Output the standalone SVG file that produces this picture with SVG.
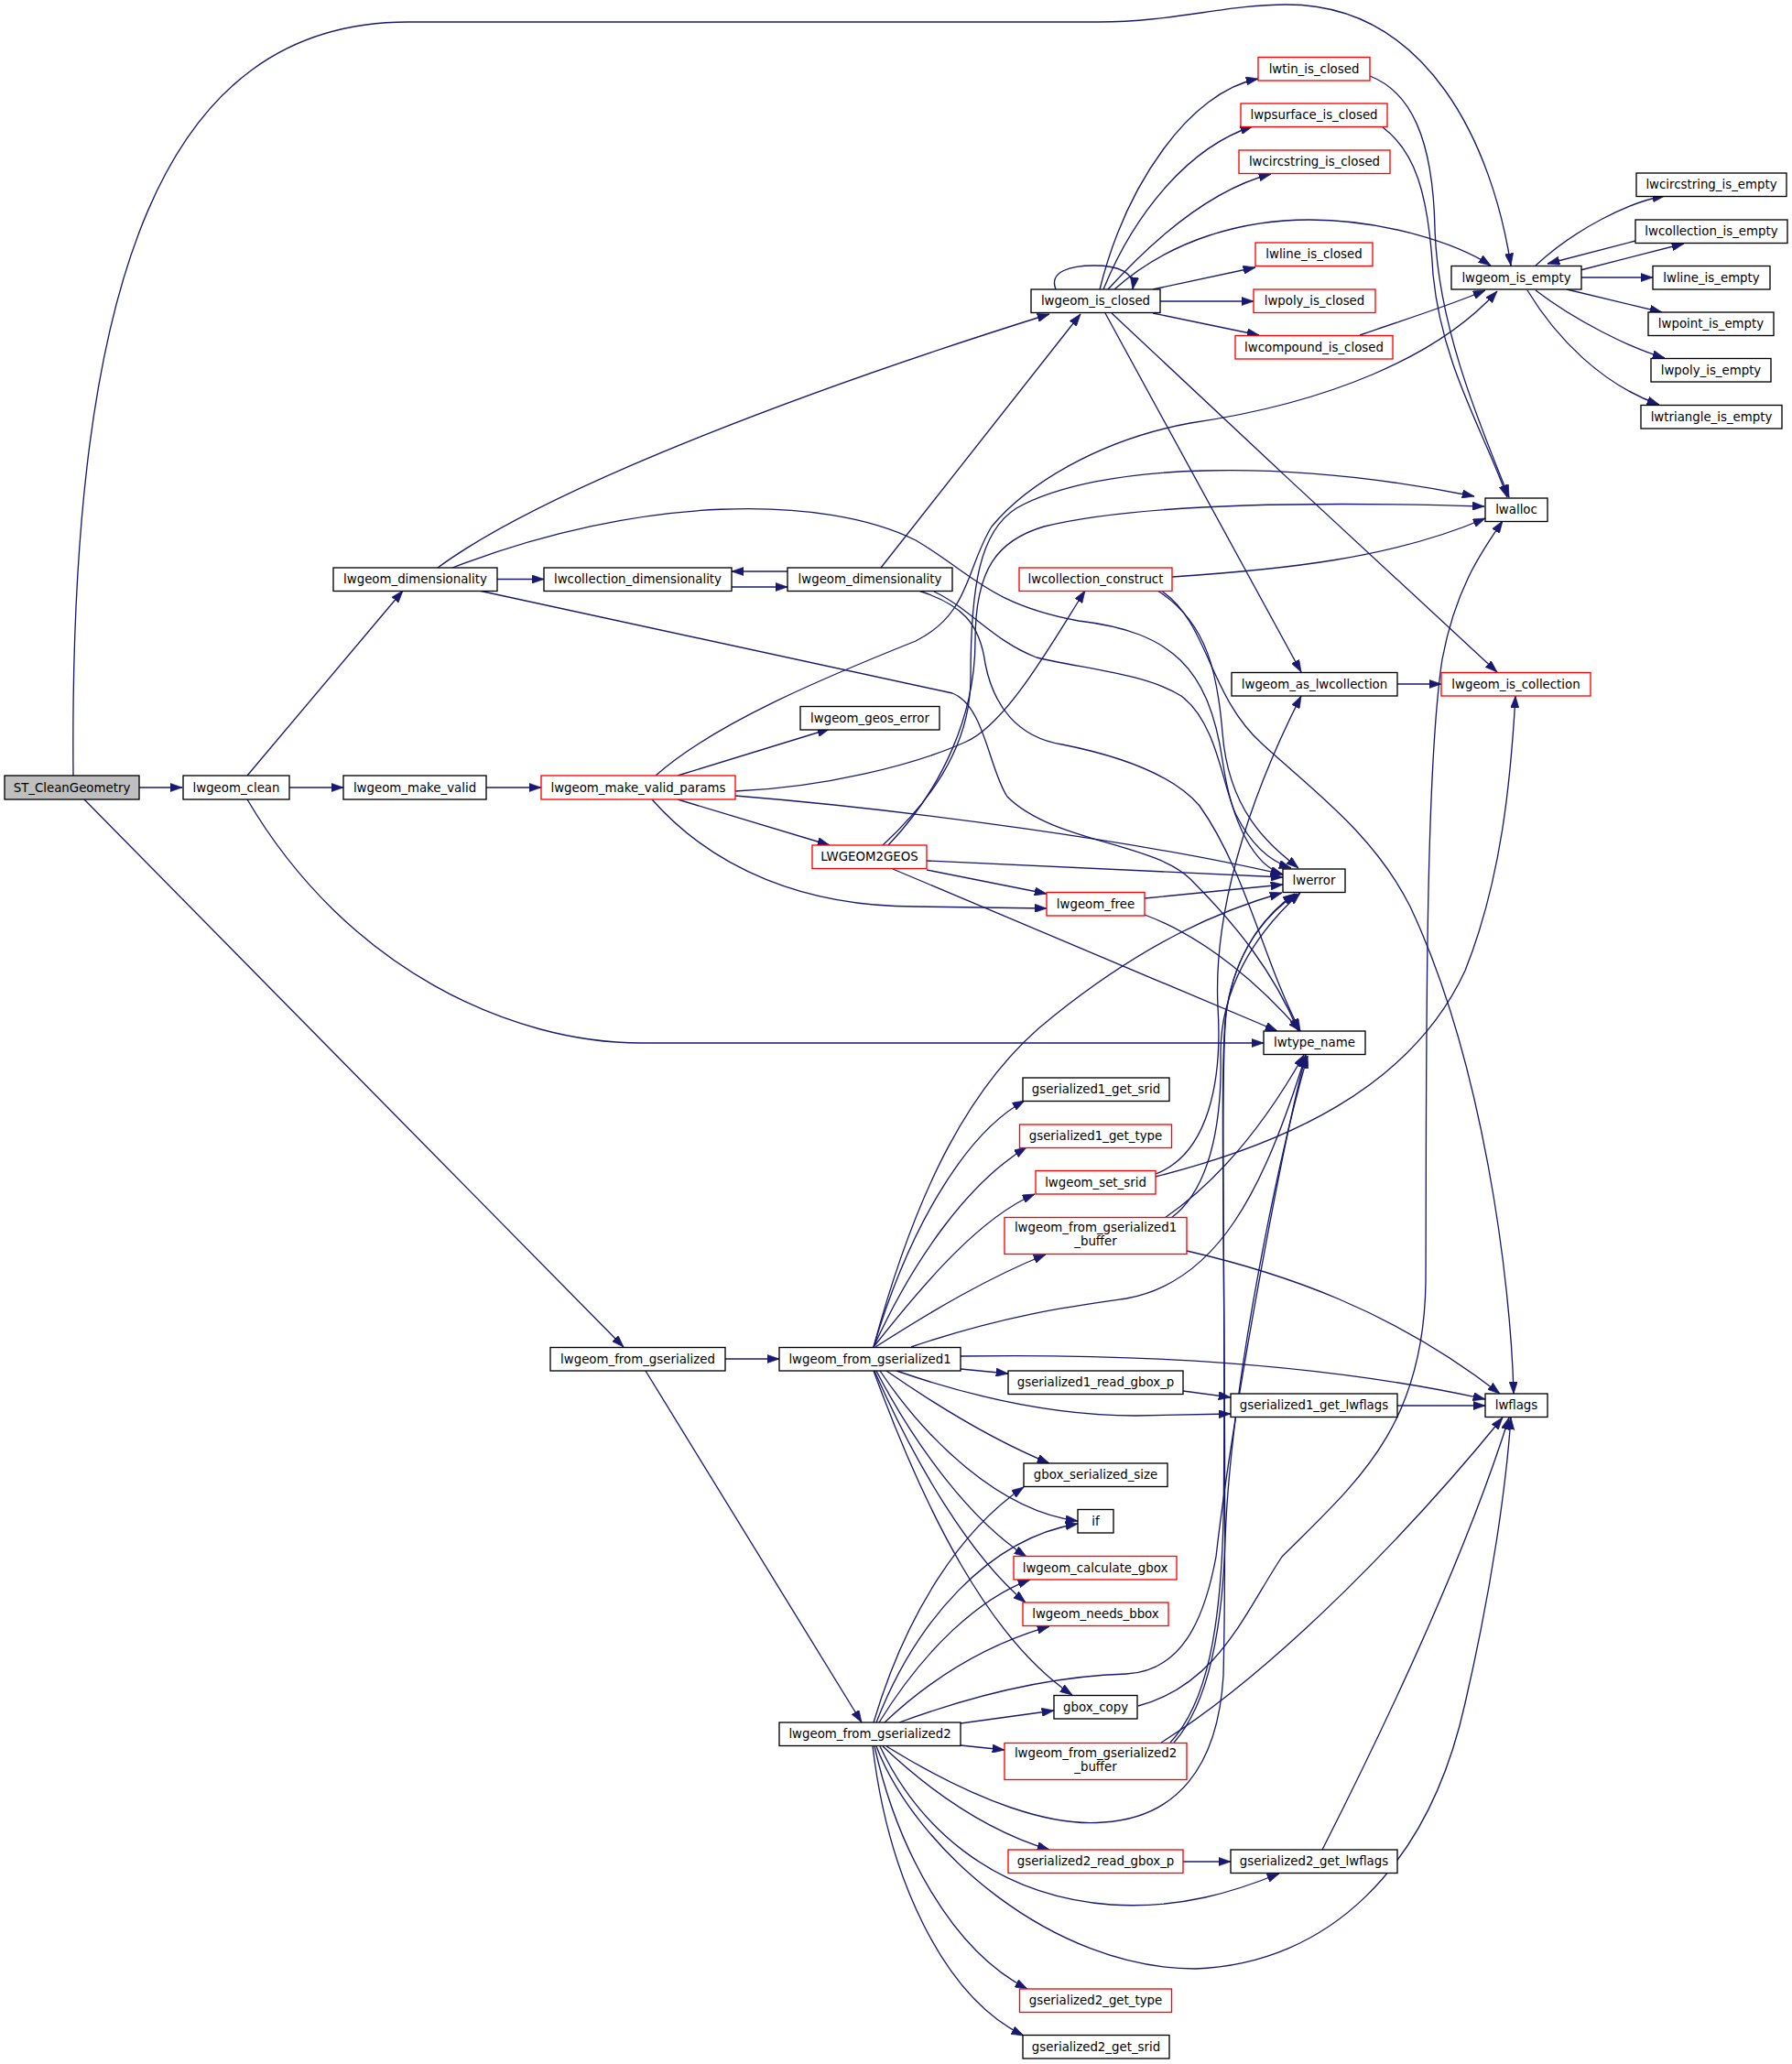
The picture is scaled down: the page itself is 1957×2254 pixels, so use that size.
<svg xmlns="http://www.w3.org/2000/svg" width="1957" height="2254" viewBox="0 0 1957 2254">
<style>
.n rect{fill:#ffffff;stroke:#000000;stroke-width:1.33}
.n.r rect{stroke:#ff0000}
.n.g rect{fill:#bfbfbf}
.n text{font-family:"DejaVu Sans","Liberation Sans",sans-serif;font-size:13.33px;fill:#000000;text-anchor:middle}
#edges path{fill:none;stroke:#191970;stroke-width:1.33;marker-end:url(#arr)}
</style>
<defs>
<marker id="arr" viewBox="0 0 10 7" refX="10" refY="3.5" markerWidth="13.3" markerHeight="9.3" markerUnits="userSpaceOnUse" orient="auto">
<polygon points="0,0 10,3.5 0,7" fill="#191970" stroke="#191970" stroke-width="0.5"/>
</marker>
</defs>
<rect width="1957" height="2254" fill="#ffffff"/>
<g id="edges">
<path d="M152,860 L199,860"/>
<path d="M92,873 L681,1471"/>
<path d="M80,847 C75,300 180,24 446,24 L1200,24 C1280,24 1340,5 1405,5 C1560,5 1630,160 1650,290"/>
<path d="M270,847 L440,645"/>
<path d="M316,860 L375,860"/>
<path d="M270,873 C380,1060 560,1139 700,1139 L1380,1139"/>
<path d="M543,632.5 L594,632.5"/>
<path d="M799,641 L860,641"/>
<path d="M860,624 L799,624"/>
<path d="M478,620 C600,530 900,420 1146,343"/>
<path d="M494,620 C700,540 900,540 1000,590 C1060,625 1080,660 1178,678 C1280,690 1320,730 1335,830 C1345,900 1370,945 1401,955"/>
<path d="M523,645 L1040,757 C1075,770 1080,840 1100,870 C1150,920 1260,920 1300,960 C1350,1010 1390,1060 1418,1126"/>
<path d="M962,620 L1180,343"/>
<path d="M1020,646 C1060,665 1085,700 1132,718 C1180,730 1250,735 1290,760 C1330,790 1335,860 1350,890 C1365,920 1385,940 1410,948"/>
<path d="M1003,645 C1050,660 1070,680 1076,725 C1085,770 1110,805 1160,813 C1220,825 1280,845 1310,880 C1360,950 1380,1050 1420,1126"/>
<path d="M531,860 L591,860"/>
<path d="M740,847 L906,796"/>
<path d="M740,873 L906,923"/>
<path d="M716,847 C780,790 900,740 1000,700 C1060,670 1055,620 1083,575 C1120,530 1200,480 1300,462 C1450,440 1570,390 1635,318"/>
<path d="M803,864 C900,860 1000,835 1055,810 C1100,790 1150,700 1185,645"/>
<path d="M803,869 C1000,885 1250,920 1401,955"/>
<path d="M712,873 C780,950 880,990 1000,990 L1143,992"/>
<path d="M964,923 C1010,880 1060,820 1060,740 C1060,640 1070,580 1110,555 C1200,505 1400,500 1610,542"/>
<path d="M970,923 C1030,860 1065,780 1065,700 C1065,620 1090,590 1140,575 C1250,548 1450,548 1621,553"/>
<path d="M1012,940 L1401,958"/>
<path d="M1012,950 L1143,976"/>
<path d="M975,949 L1395,1126"/>
<path d="M1250,981 L1401,966"/>
<path d="M1250,999 C1320,1025 1380,1080 1420,1126"/>
<path d="M1280,630 C1400,622 1520,610 1622,566"/>
<path d="M1264,645 C1320,680 1330,740 1335,800 C1342,890 1390,925 1418,948"/>
<path d="M1268,645 C1320,680 1320,760 1378,812 C1430,860 1500,910 1540,990 C1620,1160 1650,1400 1653,1522"/>
<path d="M1153,316 C1145,296 1170,290 1195,290 C1220,290 1240,297 1237,316"/>
<path d="M1201,316 C1230,200 1300,100 1374,86"/>
<path d="M1205,316 C1240,230 1300,160 1368,138"/>
<path d="M1210,316 C1270,250 1330,205 1388,190"/>
<path d="M1217,316 C1280,260 1360,240 1430,240 C1510,240 1590,265 1628,290"/>
<path d="M1259,316 L1371,292"/>
<path d="M1267,329 L1369,329"/>
<path d="M1259,342 L1375,366"/>
<path d="M1207,342 L1421,734"/>
<path d="M1214,342 C1350,470 1500,610 1635,734"/>
<path d="M1496,83 C1540,100 1565,150 1567,250 C1570,350 1610,450 1648,543"/>
<path d="M1510,139 C1545,165 1560,210 1565,300 C1575,400 1620,470 1646,543"/>
<path d="M1485,366 C1530,350 1580,335 1622,317"/>
<path d="M1677,290 C1720,250 1780,220 1818,214"/>
<path d="M1726,295 L1839,266"/>
<path d="M1786,263 L1690,288"/>
<path d="M1727,303 L1805,303"/>
<path d="M1711,316 L1815,341"/>
<path d="M1677,317 C1720,350 1780,380 1818,391"/>
<path d="M1668,317 C1700,370 1750,420 1812,442"/>
<path d="M1526,747 L1574,747"/>
<path d="M792,1484 L851,1484"/>
<path d="M705,1497 L941,1881"/>
<path d="M954,1471 C1000,1300 1060,1180 1150,1110 C1250,1030 1330,995 1400,975"/>
<path d="M954,1471 C990,1350 1050,1240 1119,1202"/>
<path d="M954,1471 C1000,1370 1060,1290 1121,1253"/>
<path d="M954,1471 C1010,1400 1070,1330 1130,1304"/>
<path d="M956,1471 C1020,1430 1080,1395 1142,1370"/>
<path d="M995,1471 C1100,1435 1180,1425 1230,1418 C1330,1400 1380,1300 1426,1152"/>
<path d="M1049,1481 C1250,1478 1450,1490 1622,1528"/>
<path d="M1049,1495 L1101,1500"/>
<path d="M979,1497 C1060,1525 1150,1546 1240,1546 L1344,1544"/>
<path d="M968,1497 C1030,1540 1090,1575 1146,1598"/>
<path d="M961,1497 C1010,1570 1090,1650 1177,1661"/>
<path d="M957,1497 C1000,1580 1060,1660 1121,1700"/>
<path d="M955,1497 C1000,1600 1060,1700 1120,1750"/>
<path d="M954,1497 C1010,1650 1080,1790 1171,1851"/>
<path d="M1262,1285 C1400,1250 1540,1190 1600,1060 C1640,960 1650,850 1655,760"/>
<path d="M1262,1282 C1320,1260 1335,1180 1330,1100 C1325,1000 1360,880 1421,760"/>
<path d="M1279,1330 C1320,1300 1335,1230 1333,1150 C1333,1080 1370,1020 1420,975"/>
<path d="M1272,1330 C1330,1290 1380,1230 1424,1152"/>
<path d="M1296,1366 C1400,1390 1520,1430 1638,1522"/>
<path d="M1292,1519 L1344,1526"/>
<path d="M1526,1535 L1622,1535"/>
<path d="M954,1881 C990,1760 1050,1670 1118,1624"/>
<path d="M957,1881 C1000,1770 1080,1680 1177,1664"/>
<path d="M960,1881 C1010,1800 1070,1745 1125,1725"/>
<path d="M966,1881 C1020,1830 1080,1795 1146,1776"/>
<path d="M982,1881 C1080,1845 1160,1830 1230,1828 C1290,1825 1315,1770 1328,1700 C1345,1550 1400,1250 1426,1153"/>
<path d="M968,1907 C1070,1970 1150,1995 1205,1990 C1285,1985 1330,1930 1336,1830 C1342,1600 1330,1150 1340,1100 C1350,1040 1380,1000 1416,976"/>
<path d="M1049,1882 L1151,1868"/>
<path d="M1049,1906 L1097,1911"/>
<path d="M964,1907 C1020,1960 1080,2000 1146,2020"/>
<path d="M961,1907 C1000,1990 1080,2070 1213,2080 C1290,2085 1350,2065 1397,2046"/>
<path d="M957,1907 C1000,2020 1150,2150 1305,2150 C1450,2145 1560,2040 1600,1860 C1630,1730 1645,1620 1650,1548"/>
<path d="M955,1907 C980,2020 1040,2130 1122,2172"/>
<path d="M953,1907 C970,2050 1030,2180 1118,2223"/>
<path d="M1243,1863 C1330,1840 1360,1760 1400,1700 C1480,1620 1555,1560 1557,1400 C1558,1200 1555,850 1575,720 C1590,640 1620,600 1641,569"/>
<path d="M1268,1903 C1400,1820 1550,1660 1641,1548"/>
<path d="M1282,1903 C1320,1860 1335,1780 1338,1680 C1345,1500 1400,1250 1428,1153"/>
<path d="M1278,1903 C1318,1860 1333,1780 1336,1660 C1340,1400 1330,1150 1340,1100 C1350,1040 1380,1000 1414,976"/>
<path d="M1292,2033 L1344,2033"/>
<path d="M1444,2020 C1520,1870 1600,1700 1648,1548"/>
</g>
<g id="ST_CleanGeometry" class="n g"><rect x="5" y="847" width="147" height="26"/><text x="78.5" y="864.5">ST_CleanGeometry</text></g>
<g id="lwgeom_clean" class="n"><rect x="200" y="847" width="116" height="26"/><text x="258" y="864.5">lwgeom_clean</text></g>
<g id="lwgeom_make_valid" class="n"><rect x="375" y="847" width="156" height="26"/><text x="453" y="864.5">lwgeom_make_valid</text></g>
<g id="lwgeom_make_valid_params" class="n r"><rect x="591" y="847" width="212" height="26"/><text x="697" y="864.5">lwgeom_make_valid_params</text></g>
<g id="lwgeom_dimensionality_1" class="n"><rect x="364" y="620" width="179" height="25.5"/><text x="453.5" y="637">lwgeom_dimensionality</text></g>
<g id="lwcollection_dimensionality" class="n"><rect x="594" y="620" width="205" height="25.5"/><text x="696.5" y="637">lwcollection_dimensionality</text></g>
<g id="lwgeom_dimensionality_2" class="n"><rect x="860" y="620" width="180" height="25.5"/><text x="950" y="637">lwgeom_dimensionality</text></g>
<g id="lwgeom_is_closed" class="n"><rect x="1126" y="316" width="141" height="25.5"/><text x="1196.5" y="333">lwgeom_is_closed</text></g>
<g id="lwtin_is_closed" class="n r"><rect x="1374" y="62.5" width="122" height="25.5"/><text x="1435" y="79.5">lwtin_is_closed</text></g>
<g id="lwpsurface_is_closed" class="n r"><rect x="1355" y="113" width="160" height="25.5"/><text x="1435" y="130">lwpsurface_is_closed</text></g>
<g id="lwcircstring_is_closed" class="n r"><rect x="1353" y="164" width="165" height="25.5"/><text x="1435.5" y="181">lwcircstring_is_closed</text></g>
<g id="lwline_is_closed" class="n r"><rect x="1371" y="265" width="128" height="25.5"/><text x="1435" y="282">lwline_is_closed</text></g>
<g id="lwpoly_is_closed" class="n r"><rect x="1369" y="316" width="133" height="25.5"/><text x="1435.5" y="333">lwpoly_is_closed</text></g>
<g id="lwcompound_is_closed" class="n r"><rect x="1349" y="366.5" width="172" height="25.5"/><text x="1435" y="383.5">lwcompound_is_closed</text></g>
<g id="lwgeom_is_empty" class="n"><rect x="1585" y="290.5" width="142" height="25.5"/><text x="1656" y="307.5">lwgeom_is_empty</text></g>
<g id="lwcircstring_is_empty" class="n"><rect x="1787" y="189" width="164" height="25.5"/><text x="1869" y="206">lwcircstring_is_empty</text></g>
<g id="lwcollection_is_empty" class="n"><rect x="1786" y="240" width="166" height="25.5"/><text x="1869" y="257">lwcollection_is_empty</text></g>
<g id="lwline_is_empty" class="n"><rect x="1805" y="290.5" width="128" height="25.5"/><text x="1869" y="307.5">lwline_is_empty</text></g>
<g id="lwpoint_is_empty" class="n"><rect x="1800" y="341" width="137" height="25.5"/><text x="1868.5" y="358">lwpoint_is_empty</text></g>
<g id="lwpoly_is_empty" class="n"><rect x="1803" y="391.5" width="131" height="25.5"/><text x="1868.5" y="408.5">lwpoly_is_empty</text></g>
<g id="lwtriangle_is_empty" class="n"><rect x="1792" y="442.5" width="154" height="25.5"/><text x="1869" y="459.5">lwtriangle_is_empty</text></g>
<g id="lwalloc" class="n"><rect x="1622" y="544" width="68" height="25.5"/><text x="1656" y="561">lwalloc</text></g>
<g id="lwcollection_construct" class="n r"><rect x="1113" y="620" width="167" height="25.5"/><text x="1196.5" y="637">lwcollection_construct</text></g>
<g id="lwgeom_geos_error" class="n"><rect x="874" y="771.5" width="152" height="25.5"/><text x="950" y="788.5">lwgeom_geos_error</text></g>
<g id="lwgeom_as_lwcollection" class="n"><rect x="1345" y="734.5" width="181" height="25.5"/><text x="1435.5" y="751.5">lwgeom_as_lwcollection</text></g>
<g id="lwgeom_is_collection" class="n r"><rect x="1574" y="734.5" width="163" height="25.5"/><text x="1655.5" y="751.5">lwgeom_is_collection</text></g>
<g id="LWGEOM2GEOS" class="n r"><rect x="887" y="923" width="125" height="25.5"/><text x="949.5" y="940">LWGEOM2GEOS</text></g>
<g id="lwerror" class="n"><rect x="1401" y="949" width="68" height="25.5"/><text x="1435" y="966">lwerror</text></g>
<g id="lwgeom_free" class="n r"><rect x="1143" y="974.5" width="107" height="25.5"/><text x="1196.5" y="991.5">lwgeom_free</text></g>
<g id="lwtype_name" class="n"><rect x="1380" y="1126" width="111" height="25.5"/><text x="1435.5" y="1143">lwtype_name</text></g>
<g id="gserialized1_get_srid" class="n"><rect x="1117" y="1177" width="160" height="25.5"/><text x="1197" y="1194">gserialized1_get_srid</text></g>
<g id="gserialized1_get_type" class="n r"><rect x="1113.5" y="1228" width="166" height="25.5"/><text x="1196.5" y="1245">gserialized1_get_type</text></g>
<g id="lwgeom_set_srid" class="n r"><rect x="1131" y="1278.5" width="131" height="25.5"/><text x="1196.5" y="1295.5">lwgeom_set_srid</text></g>
<g id="lwgeom_from_gserialized1_buffer" class="n r"><rect x="1097" y="1329.5" width="199" height="40"/><text x="1196.5" y="1345">lwgeom_from_gserialized1</text><text x="1196.5" y="1360">_buffer</text></g>
<g id="lwgeom_from_gserialized" class="n"><rect x="601" y="1471.5" width="191" height="25.5"/><text x="696.5" y="1488.5">lwgeom_from_gserialized</text></g>
<g id="lwgeom_from_gserialized1" class="n"><rect x="851" y="1471.5" width="198" height="25.5"/><text x="950" y="1488.5">lwgeom_from_gserialized1</text></g>
<g id="gserialized1_read_gbox_p" class="n"><rect x="1101" y="1497" width="191" height="25.5"/><text x="1196.5" y="1514">gserialized1_read_gbox_p</text></g>
<g id="gserialized1_get_lwflags" class="n"><rect x="1344" y="1522" width="182" height="25.5"/><text x="1435" y="1539">gserialized1_get_lwflags</text></g>
<g id="lwflags" class="n"><rect x="1622" y="1522" width="68" height="25.5"/><text x="1656" y="1539">lwflags</text></g>
<g id="gbox_serialized_size" class="n"><rect x="1118" y="1598" width="157" height="25.5"/><text x="1196.5" y="1615">gbox_serialized_size</text></g>
<g id="if" class="n"><rect x="1177" y="1648.5" width="39" height="25.5"/><text x="1196.5" y="1665.5">if</text></g>
<g id="lwgeom_calculate_gbox" class="n r"><rect x="1107" y="1699.5" width="178" height="25.5"/><text x="1196" y="1716.5">lwgeom_calculate_gbox</text></g>
<g id="lwgeom_needs_bbox" class="n r"><rect x="1117" y="1750" width="159" height="25.5"/><text x="1196.5" y="1767">lwgeom_needs_bbox</text></g>
<g id="gbox_copy" class="n"><rect x="1151" y="1851.5" width="91" height="25.5"/><text x="1196.5" y="1868.5">gbox_copy</text></g>
<g id="lwgeom_from_gserialized2" class="n"><rect x="851" y="1881" width="198" height="25.5"/><text x="950" y="1898">lwgeom_from_gserialized2</text></g>
<g id="lwgeom_from_gserialized2_buffer" class="n r"><rect x="1097" y="1903.5" width="199" height="40"/><text x="1196.5" y="1919">lwgeom_from_gserialized2</text><text x="1196.5" y="1934">_buffer</text></g>
<g id="gserialized2_read_gbox_p" class="n r"><rect x="1101" y="2020" width="191" height="25.5"/><text x="1196.5" y="2037">gserialized2_read_gbox_p</text></g>
<g id="gserialized2_get_lwflags" class="n"><rect x="1344" y="2020" width="182" height="25.5"/><text x="1435" y="2037">gserialized2_get_lwflags</text></g>
<g id="gserialized2_get_type" class="n r"><rect x="1113.5" y="2172" width="166" height="25.5"/><text x="1196.5" y="2189">gserialized2_get_type</text></g>
<g id="gserialized2_get_srid" class="n"><rect x="1117" y="2222.5" width="160" height="25.5"/><text x="1197" y="2239.5">gserialized2_get_srid</text></g>
</svg>
